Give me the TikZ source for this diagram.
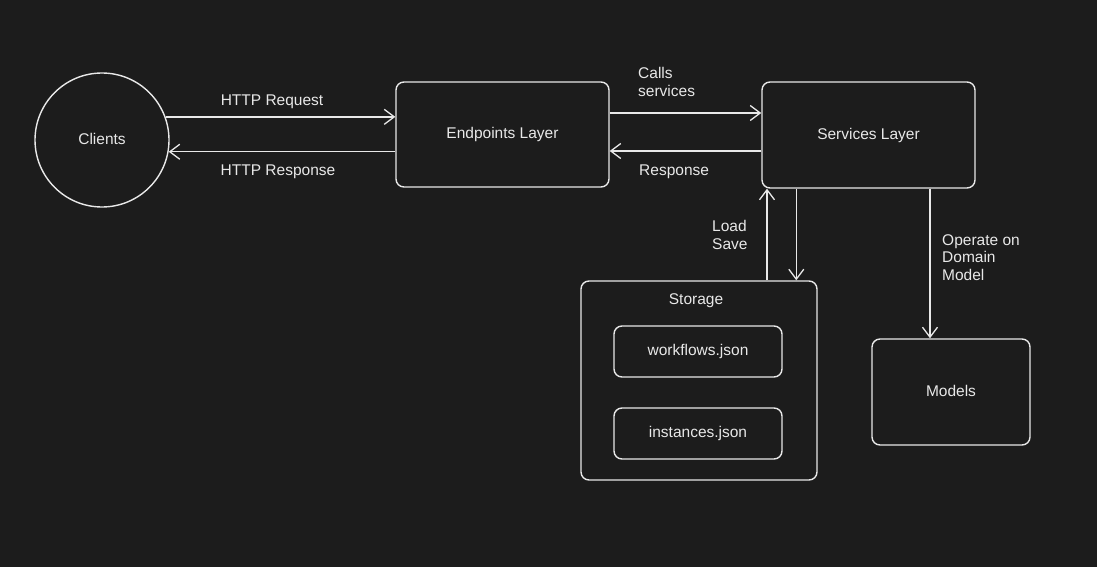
\documentclass[tikz,border=0pt]{standalone}
\usepackage{fontspec}
\setmainfont{Liberation Sans}
\usetikzlibrary{arrows.meta}
\definecolor{bg}{RGB}{28,28,28}
\definecolor{ink}{RGB}{232,232,232}
\tikzset{
  box/.style={draw=ink, line width=1.4pt, rounded corners=8pt, text=ink, font=\fontsize{15.5}{17.5}\selectfont, inner sep=0pt},
  lbl/.style={text=ink, font=\fontsize{15.5}{17.5}\selectfont, inner sep=0pt},
  arr/.style={draw=ink, line width=1.4pt, -{Straight Barb[length=10pt,width=15pt,line width=1.3pt]}}
}
\begin{document}
\begin{tikzpicture}[x=1pt,y=-1pt]
\fill[bg] (0,0) rectangle (1097,567);
\useasboundingbox (0,0) rectangle (1097,567);

\node[box, circle, rounded corners=0pt, minimum size=134pt] (clients) at (102,140) {\raisebox{1.5pt}{Clients}};
\node[box, minimum width=213pt, minimum height=105pt] (endpoints) at (502.5,134.5) {Endpoints Layer};
\node[box, minimum width=213pt, minimum height=106pt] (services) at (868.5,135) {Services Layer};
\node[box, minimum width=236pt, minimum height=199pt] (storage) at (699,380.5) {};
\node[lbl] (storlbl) at (696,301) {Storage};
\node[box, minimum width=168pt, minimum height=51pt] (wf) at (698,351.5) {workflows.json};
\node[box, minimum width=168pt, minimum height=51pt] (inst) at (698,433.5) {instances.json};
\node[box, minimum width=158pt, minimum height=106pt] (models) at (951,392) {\raisebox{1.5pt}{Models}};

% Clients <-> Endpoints
\draw[arr] (clients.20) -- (clients.20 -| endpoints.west);
\draw[arr] (endpoints.west |- clients.-10) -- (clients.-10);
\node[lbl] (lreq) at (272,101.5) {HTTP Request};
\node[lbl] (lresp) at (278,171.5) {HTTP Response};

% Endpoints <-> Services
\coordinate (ce) at ([yshift=21.5pt]endpoints.east);
\coordinate (rs) at ([yshift=-16pt]services.west);
\draw[arr] (ce) -- (ce -| services.west);
\draw[arr] (rs) -- (rs -| endpoints.east);
\node[lbl, align=left, anchor=west] (lcalls) at (638,82) {Calls\\services};
\node[lbl, anchor=west] (lresp2) at (639,171.5) {Response};

% Services <-> Storage
\coordinate (up) at ([xshift=68pt]storage.north);
\coordinate (dn) at ([xshift=35pt]services.south west);
\draw[arr] (up) -- (up |- services.south);
\draw[arr] (dn) -- (dn |- storage.north);
\node[lbl, align=left, anchor=west] (lload) at (712,235) {Load\\Save};

% Services -> Models
\coordinate (mtop) at ([xshift=-21pt]models.north);
\draw[arr] (services.south -| mtop) -- (mtop);
\node[lbl, align=left, anchor=west] (lop) at (942,257.5) {Operate on\\Domain\\Model};
\end{tikzpicture}
\end{document}
